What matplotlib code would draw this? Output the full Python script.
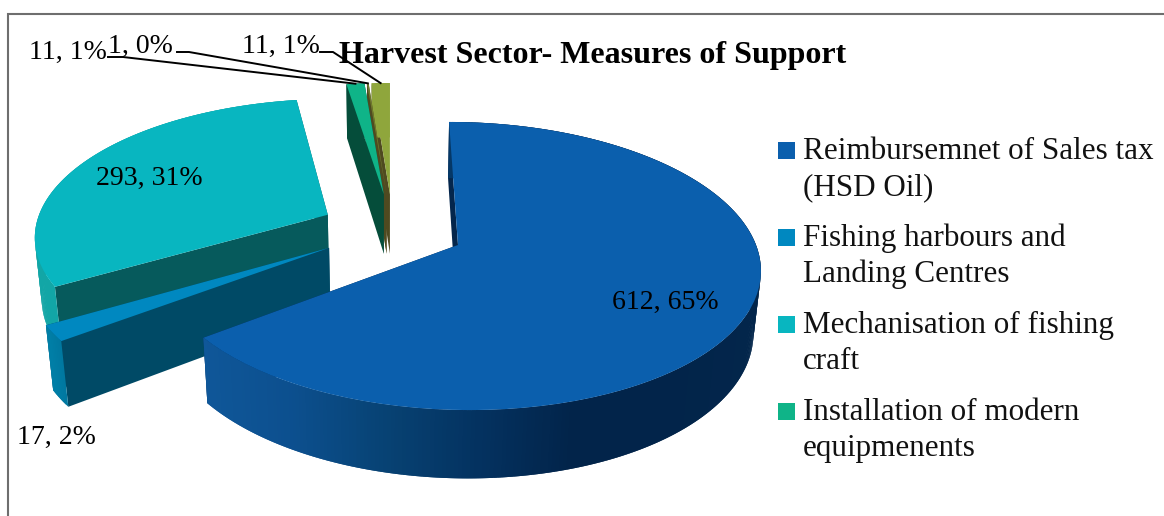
"""Exploded 3D pie of harvest sector support measures."""

import numpy as np
import matplotlib

matplotlib.use("Agg")
import matplotlib.pyplot as plt
from matplotlib.colors import to_rgb


VALUES = [612, 17, 293, 11, 1, 11]
PERCENTS = [65, 2, 31, 1, 0, 1]
TITLE = "Harvest Sector- Measures of Support"
LEGEND_LABELS = [
    "Reimbursemnet of Sales tax\n(HSD Oil)",
    "Fishing harbours and\nLanding Centres",
    "Mechanisation of fishing\ncraft",
    "Installation of modern\nequipmenents",
]

# slice offsets from the pie centre, in pie radii
EXPLODE = [(0.0, 0.0), (-0.432, -0.02), (-0.4435, 0.2215),
           (-0.25, 0.38), (-0.24, 0.38), (-0.228, 0.38)]
TOP_COLORS = ["#0b5fad", "#0088c0", "#08b6c0", "#0fb488", "#6f7a2c", "#8fa63c"]
WALL_COLORS = ["#04264c", "#004a66", "#065a5c", "#054d3a", "#4f4a20", "#4f4a20"]
# shading of the outer wall, left to right across the slice
RIM_COLORS = [
    ["#0f5799", "#0c4f8e", "#074273", "#043260", "#02244a", "#02244a", "#03264b"],
    ["#0080a8", "#0078a0"],
    ["#12a6a6", "#12a6a6"],
    ["#054d3a", "#054d3a"],
    ["#4f4a20", "#4f4a20"],
    ["#8fa63c", "#8fa63c"],
]
LABEL_SPOTS = [(665, 302), (56, 437), (149, 178), (68, 52), (140, 46), (281, 46)]

FONT = "Liberation Serif"


def project(u, v, z=0.0):
    """Perspective projection of pie coordinates to pixels; z=1 is the underside."""
    w = 1 + 0.146 * v + 0.02 * z
    return 388 + (70 + 298 * u) / w, 245 - (141 * v - 63 * z) / w


def rim_points(offset, start, stop, z=0.0, count=80):
    angles = np.radians(np.linspace(start, stop, count))
    return project(offset[0] + np.sin(angles), offset[1] + np.cos(angles), z)


def draw_slice(ax, offset, start, stop, top_color, wall_color, rim_stops):
    apex_top = project(offset[0], offset[1])
    apex_low = project(offset[0], offset[1], 1.0)

    # flat radial walls go in first, the top face hides the ones facing away
    for angle in (start, stop):
        edge_top = rim_points(offset, angle, angle, count=1)
        edge_low = rim_points(offset, angle, angle, z=1.0, count=1)
        ax.fill(
            [apex_top[0], edge_top[0][0], edge_low[0][0], apex_low[0]],
            [apex_top[1], edge_top[1][0], edge_low[1][0], apex_low[1]],
            color=wall_color, linewidth=0,
        )

    # outer wall as overlapping quads so the shading can run along the arc
    steps = max(int((stop - start) * 1.5), 2)
    upper_x, upper_y = rim_points(offset, start, stop, count=steps + 1)
    lower_x, lower_y = rim_points(offset, start, stop, z=1.0, count=steps + 1)
    stop_rgb = np.array([to_rgb(c) for c in rim_stops])
    stop_pos = np.linspace(0, 1, len(rim_stops))
    span = upper_x.max() - upper_x.min()
    for i in range(steps):
        j = min(i + 2, steps)
        t = (upper_x[i] - upper_x.min()) / span
        rgb = [np.interp(t, stop_pos, stop_rgb[:, c]) for c in range(3)]
        ax.fill(
            [upper_x[i], upper_x[j], lower_x[j], lower_x[i]],
            [upper_y[i], upper_y[j], lower_y[j], lower_y[i]],
            color=rgb, linewidth=0,
        )

    arc_x, arc_y = rim_points(offset, start, stop)
    ax.fill(
        np.r_[apex_top[0], arc_x], np.r_[apex_top[1], arc_y],
        color=top_color, linewidth=0,
    )


def main():
    plt.rcParams["font.family"] = [FONT, "DejaVu Serif"]
    fig = plt.figure(figsize=(11.64, 5.16), dpi=100)
    ax = fig.add_axes([0, 0, 1, 1])
    ax.set_xlim(0, 1164)
    ax.set_ylim(516, 0)
    ax.axis("off")

    # chart frame, open at the right and bottom
    ax.plot([8, 8, 1164], [516, 14, 14], color="#6e6e6e", linewidth=1.5,
            solid_joinstyle="miter")

    sweep = np.cumsum([0] + VALUES) / sum(VALUES) * 360
    # back slices first, the main slice last
    for i in (5, 4, 3, 2, 1, 0):
        draw_slice(ax, EXPLODE[i], sweep[i], sweep[i + 1], TOP_COLORS[i],
                   WALL_COLORS[i], RIM_COLORS[i])

    # leader lines to the thin slices at the back
    for i, (x0, x1, y) in zip((3, 4, 5), ((108, 123, 57), (177, 189, 52), (320, 333, 52))):
        tip_x, tip_y = rim_points(EXPLODE[i], (sweep[i] + sweep[i + 1]) / 2,
                                  (sweep[i] + sweep[i + 1]) / 2, count=1)
        ax.plot([x0, x1, tip_x[0]], [y, y, tip_y[0]], color="black", linewidth=1.4)

    for value, percent, (x, y) in zip(VALUES, PERCENTS, LABEL_SPOTS):
        ax.text(x, y, f"{value}, {percent}%", ha="center", va="center",
                fontsize=20, color="black")

    ax.text(593, 55, TITLE, ha="center", va="center", fontsize=23,
            fontweight="bold", color="black")

    # legend: colour square plus one text line per row
    box_tops = [142, 229, 316, 403]
    for label, color, box_top in zip(LEGEND_LABELS, TOP_COLORS, box_tops):
        ax.fill([778, 795, 795, 778],
                [box_top, box_top, box_top + 17, box_top + 17],
                color=color, linewidth=0)
        for row, line in enumerate(label.split("\n")):
            ax.text(803, box_top + 17 + row * 36, line, ha="left", va="baseline",
                    fontsize=22.4, color="#111111")

    fig.savefig("out.png", dpi=100)


if __name__ == "__main__":
    main()
